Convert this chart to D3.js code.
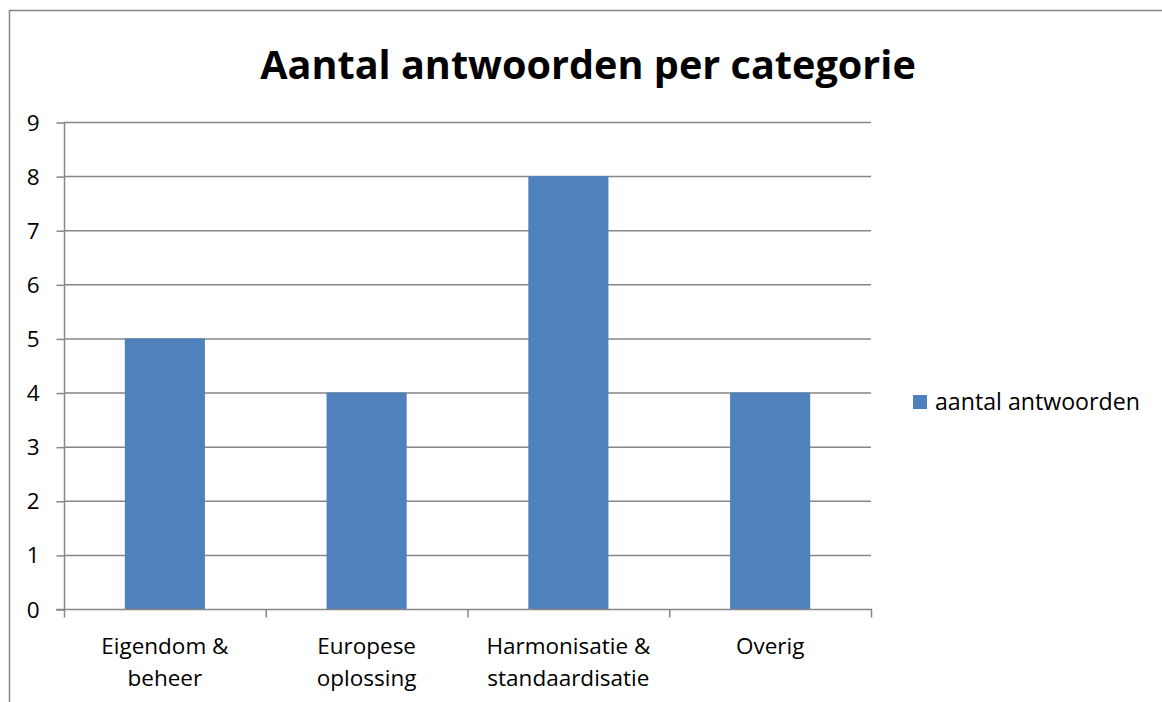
<!DOCTYPE html>
<html><head><meta charset="utf-8">
<script src="https://cdn.jsdelivr.net/npm/d3@7"></script>
<style>body{margin:0;background:#fff}svg{display:block}text{font-family:"Open Sans",sans-serif}</style>
</head><body>
<svg id="c" width="1162" height="702"></svg>
<script>
const categories = [["Eigendom &","beheer"],["Europese","oplossing"],["Harmonisatie &","standaardisatie"],["Overig"]];
const values = [5, 4, 8, 4];
const yTicks = [0,1,2,3,4,5,6,7,8,9];
const seriesName = "aantal antwoorden";
const title = "Aantal antwoorden per categorie";

const svg = d3.select("#c");
const grid = "#868686";
const FONT = "'Open Sans',sans-serif";
const FS = 22.5;
function fit(sel, target){ const w = sel.node().getComputedTextLength(); const fs = parseFloat(sel.attr("font-size")); sel.attr("font-size", fs*target/w); }

svg.append("rect").attr("x",9.5).attr("y",10.5).attr("width",1200).attr("height",800)
  .attr("fill","none").attr("stroke",grid).attr("stroke-width",1.5);

const t = svg.append("text").attr("x",588).attr("y",79).attr("text-anchor","middle")
  .attr("font-size",36).attr("font-weight","bold").attr("fill","#000").text(title);
fit(t, 656);

const x = d3.scaleBand().domain(d3.range(categories.length)).range([64,871]);
const y = d3.scaleLinear().domain([0,9]).range([609,122]);

svg.append("g").selectAll("line").data(yTicks.filter(d=>d>0)).join("line")
  .attr("x1",64).attr("x2",871).attr("y1",d=>y(d)+0.5).attr("y2",d=>y(d)+0.5)
  .attr("stroke",grid).attr("stroke-width",1.5);

const bw = x.bandwidth()*0.397;
svg.append("g").selectAll("rect").data(values).join("rect")
  .attr("x",(d,i)=>x(i)+x.bandwidth()/2-bw/2).attr("width",bw)
  .attr("y",d=>y(d)).attr("height",d=>y(0)-y(d)).attr("fill","#4F81BD");

const ya = svg.append("g").attr("transform","translate(64.5,0)")
  .call(d3.axisLeft(y).tickValues(yTicks).tickSize(8).tickFormat(d3.format("d")));
ya.select(".domain").attr("stroke",grid).attr("stroke-width",1.5).attr("d","M0,"+y(9)+"V"+(y(0)+1));
ya.selectAll(".tick line").attr("stroke",grid).attr("stroke-width",1.5).attr("transform","translate(0,0.5)");
ya.selectAll(".tick text").attr("font-size",FS).attr("fill","#000").attr("font-family",FONT).attr("dy","0.36em").attr("x",-25);

const xa = svg.append("g").attr("transform","translate(0,"+(y(0)+0.5)+")");
xa.append("line").attr("x1",56).attr("x2",872).attr("y1",0).attr("y2",0).attr("stroke",grid).attr("stroke-width",1.5);
const edges = d3.range(categories.length+1).map(i=>i<categories.length? x(i): x.range()[1]);
xa.selectAll("line.t").data(edges).join("line").attr("class","t")
  .attr("x1",d=>d+0.5).attr("x2",d=>d+0.5).attr("y1",0).attr("y2",8).attr("stroke",grid).attr("stroke-width",1.5);
const lab = xa.selectAll("text.c").data(categories).join("text").attr("class","c")
  .attr("text-anchor","middle").attr("font-size",FS).attr("fill","#000");
lab.selectAll("tspan").data((d,i)=>d.map(s=>({s,i}))).join("tspan")
  .attr("x",d=>x(d.i)+x.bandwidth()/2).attr("y",(d,j)=>44+j*32).text(d=>d.s);

svg.append("rect").attr("x",913).attr("y",395).attr("width",14).attr("height",14).attr("fill","#4F81BD");
const lt = svg.append("text").attr("x",935).attr("y",410).attr("font-size",FS).attr("fill","#000").text(seriesName);
fit(lt, 205);
</script>
</body></html>
